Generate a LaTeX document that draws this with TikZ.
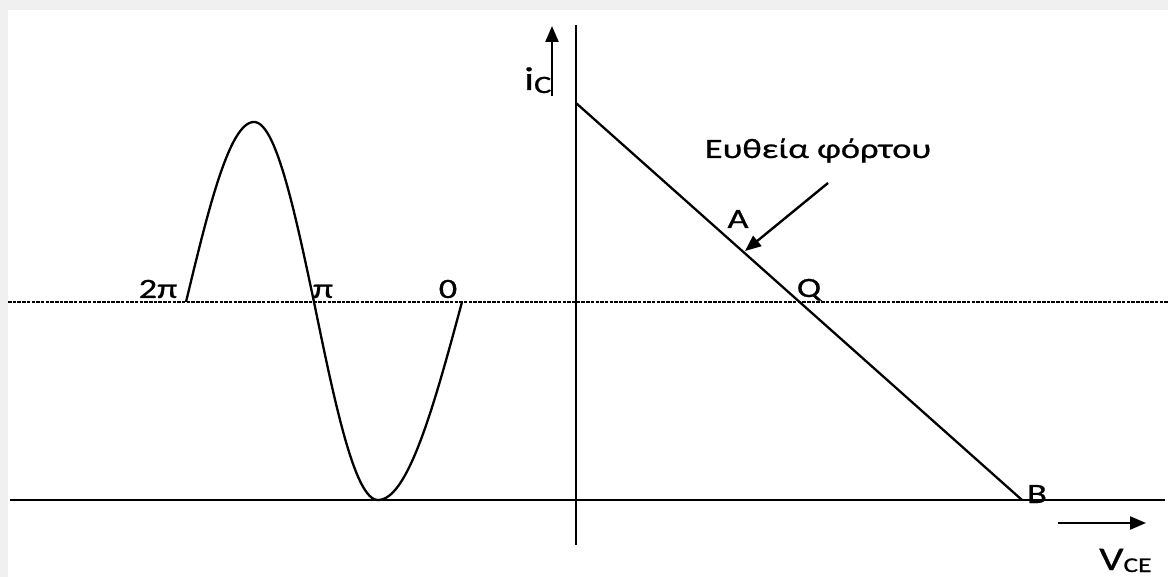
\documentclass[tikz,border=0pt]{standalone}
\usepackage{fontspec}
\setmainfont{Carlito}[FakeStretch=1.3,FakeBold=0.7]
\usetikzlibrary{arrows.meta}
\tikzset{
  ln/.style={line width=2.3pt, black},
  dotln/.style={line width=2.4pt, black, dash pattern=on 3.5pt off 1.2pt},
  arr/.style={line width=2.4pt, -{Triangle[length=16pt,width=13pt]}},
  lbl/.style={inner sep=0pt, anchor=base, font=\fontsize{28}{28}\selectfont}
}
\begin{document}
\begin{tikzpicture}[x=1pt,y=-1pt]
\useasboundingbox (0,0) rectangle (1168,577);
\fill[gray!12] (0,0) rectangle (1168,577);
\fill[white] (8,10) rectangle (1168,577);
% reference lines
\coordinate (dl) at (8,302); \coordinate (dr) at (1168,302);
\coordinate (bl) at (10,500); \coordinate (br) at (1165,500);
\draw[dotln] (dl) -- (dr);
\draw[ln] (bl) -- (br);
% vertical axis
\coordinate (yt) at (576,25); \coordinate (yb) at (576,545);
\draw[ln] (yt) -- (yb);
% load line
\coordinate (L0) at (576,103); \coordinate (B) at (1022,500);
\draw[ln] (L0) -- (B);
% sine wave
\draw[ln, line join=round] plot[domain=0:90, samples=40] ({186+68*\x/90},{302-180*sin(\x)})
  -- plot[domain=90:180, samples=40] ({254+60*(\x-90)/90},{302-180*sin(\x)})
  -- plot[domain=0:90, samples=40] ({314+64*\x/90},{302+198*sin(\x)})
  -- plot[domain=90:180, samples=40] ({378+84*(\x-90)/90},{302+198*sin(\x)});
% axis arrows
\coordinate (ica) at (552,96); \coordinate (icb) at (552,26);
\draw[arr] (ica) -- (icb);
\coordinate (va) at (1058,523); \coordinate (vb) at (1146,523);
\draw[arr] (va) -- (vb);
% labels
\node[lbl] (t2pi) at (158,298) {2π};
\node[lbl] (tpi) at (323,298) {π};
\node[lbl] (t0) at (448,298) {0};
\node[lbl] (title) at (818,158) {Ευθεία φόρτου};
\node[lbl] (A) at (738,228) {A};
\node[lbl] (Q) at (809,297) {Q};
\node[lbl] (Bl) at (1037,503) {B};
\node[inner sep=0pt, anchor=base west] (ic) at (524,90) {\fontsize{33}{33}\selectfont i\raisebox{-3pt}{\fontsize{25}{25}\selectfont C}};
\node[inner sep=0pt, anchor=base west] (vce) at (1099,570) {\fontsize{33}{33}\selectfont V\raisebox{-2pt}{\fontsize{21}{21}\selectfont CE}};
% pointer arrow
\coordinate (pa) at (828,183); \coordinate (pb) at (745,251);
\draw[arr] (pa) -- (pb);
\end{tikzpicture}
\end{document}
